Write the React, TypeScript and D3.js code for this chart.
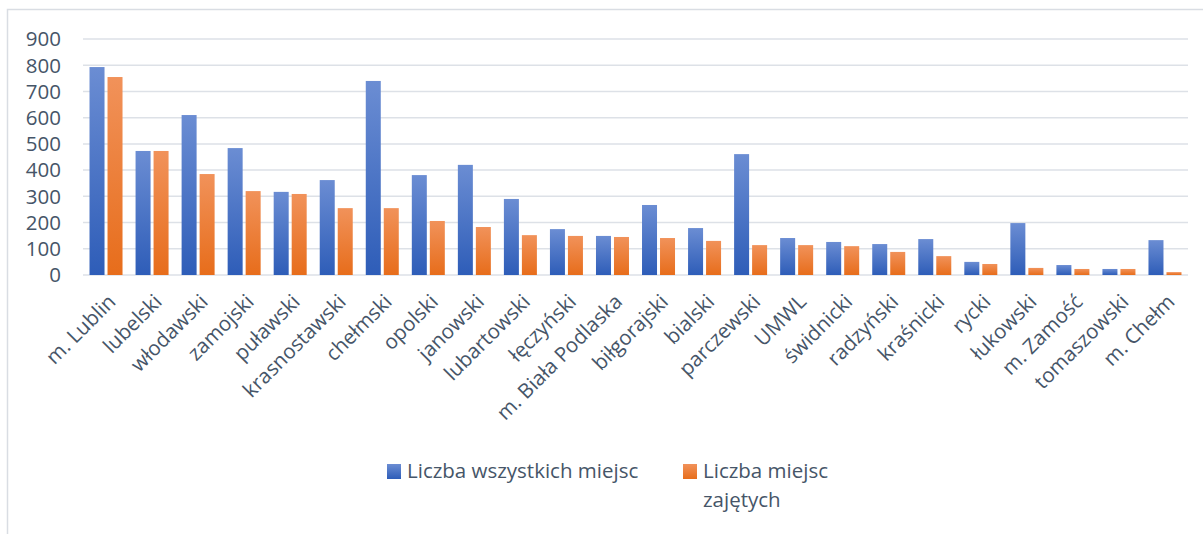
import React from "react";
import * as d3 from "d3";

const categories = [
  "m. Lublin", "lubelski", "włodawski", "zamojski", "puławski", "krasnostawski",
  "chełmski", "opolski", "janowski", "lubartowski", "łęczyński", "m. Biała Podlaska",
  "biłgorajski", "bialski", "parczewski", "UMWL", "świdnicki", "radzyński",
  "kraśnicki", "rycki", "łukowski", "m. Zamość", "tomaszowski", "m. Chełm",
];
const allSeats = [793, 473, 610, 484, 317, 362, 740, 381, 420, 290, 175, 149, 267, 179, 461, 141, 126, 118, 137, 50, 198, 38, 23, 133];
const takenSeats = [755, 473, 385, 320, 309, 255, 255, 206, 183, 152, 149, 145, 141, 130, 114, 114, 110, 88, 72, 42, 27, 23, 23, 11];
const seriesNames = ["Liczba wszystkich miejsc", "Liczba miejsc zajętych"];
const yTicks = [0, 100, 200, 300, 400, 500, 600, 700, 800, 900];

const W = 1203, H = 534;
const plotLeft = 83, plotRight = 1188, plotTop = 39, plotBottom = 275;
const FONT = "'Open Sans', sans-serif";
const TXT = "#465568";

export default function App() {
  const x = d3.scaleBand<string>().domain(categories).range([plotLeft, plotRight]).paddingInner(0).paddingOuter(0);
  const y = d3.scaleLinear().domain([0, 900]).range([plotBottom, plotTop]);
  const bw = x.bandwidth();
  const barW = 15, gap = 3;
  const groupOff = (bw - (2 * barW + gap)) / 2;
  const series = [allSeats, takenSeats];
  const grads = ["gBlue", "gOrange"];

  return (
    <div style={{ position: "absolute", left: 0, top: 0 }}>
      <svg width={W} height={H} style={{ display: "block", background: "#fff" }}>
        <defs>
          <linearGradient id="gBlue" x1="0" y1="0" x2="0" y2="1">
            <stop offset="0%" stopColor="#6B8DD3" />
            <stop offset="100%" stopColor="#2E5DB8" />
          </linearGradient>
          <linearGradient id="gOrange" x1="0" y1="0" x2="0" y2="1">
            <stop offset="0%" stopColor="#F1925A" />
            <stop offset="100%" stopColor="#E76D1B" />
          </linearGradient>
        </defs>
        {/* chart border */}
        <path d={`M7.5,${H + 5} V9.5 H${W + 5}`} fill="none" stroke="#D9DDE3" strokeWidth={1.5} />
        {/* gridlines */}
        {yTicks.map((t) => (
          <line key={t} x1={plotLeft} x2={plotRight} y1={y(t)} y2={y(t)} stroke="#DDE1E7" strokeWidth={1.5} />
        ))}
        {/* y tick labels */}
        {yTicks.map((t) => (
          <text key={"l" + t} x={61} y={y(t)} dy="0.36em" textAnchor="end" fontFamily={FONT} fontSize={20.5} fill={TXT}>
            {t}
          </text>
        ))}
        {/* bars */}
        {categories.map((c, i) => (
          <g key={c}>
            {series.map((s, k) => {
              const bx = (x(c) as number) + groupOff + k * (barW + gap);
              return (
                <rect key={k} x={bx} y={y(s[i])} width={barW} height={plotBottom - y(s[i])} fill={`url(#${grads[k]})`} />
              );
            })}
          </g>
        ))}
        {/* category labels */}
        {categories.map((c) => {
          const cx = (x(c) as number) + bw / 2;
          return (
            <text key={"c" + c} transform={`translate(${cx + 11},${303}) rotate(-45)`} textAnchor="end" fontFamily={FONT} fontSize={20.5} fill={TXT}>
              {c}
            </text>
          );
        })}
        {/* legend */}
        <rect x={387} y={464} width={14} height={15} fill="url(#gBlue)" />
        <text x={407} y={478} fontFamily={FONT} fontSize={20.5} fill={TXT}>{seriesNames[0]}</text>
        <rect x={683} y={464} width={14} height={15} fill="url(#gOrange)" />
        <text x={703} y={478} fontFamily={FONT} fontSize={20.5} fill={TXT}>
          <tspan x={703}>{seriesNames[1].split(" ").slice(0, 2).join(" ")}</tspan>
          <tspan x={703} dy={29}>{seriesNames[1].split(" ").slice(2).join(" ")}</tspan>
        </text>
      </svg>
    </div>
  );
}
